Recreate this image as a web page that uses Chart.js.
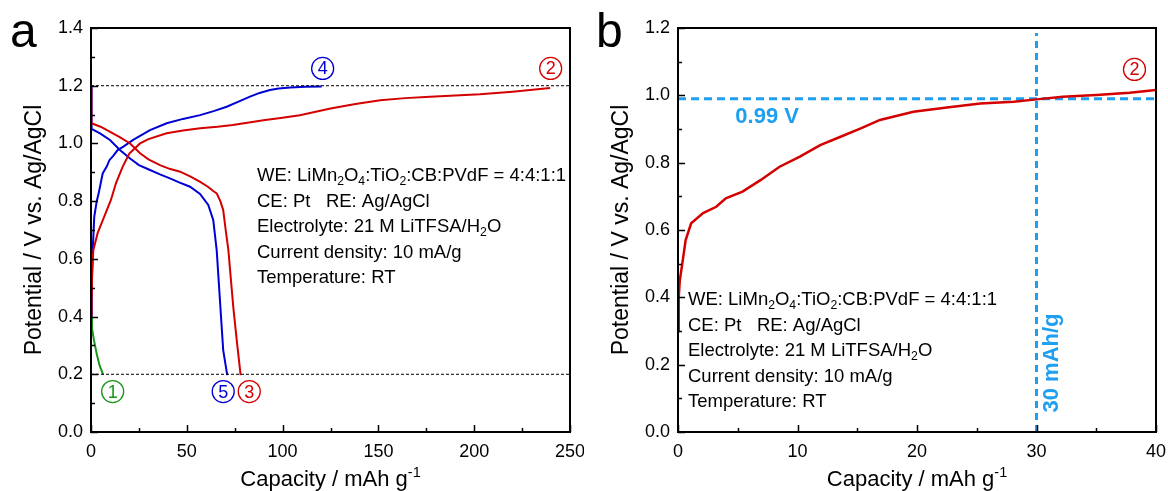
<!DOCTYPE html>
<html>
<head>
<meta charset="utf-8">
<script src="https://cdn.jsdelivr.net/npm/chart.js@4.4.0/dist/chart.umd.min.js"></script>
<style>
  body { margin: 0; background: #fff; }
  #wrap { position: relative; width: 1168px; height: 491px; }
  canvas { position: absolute; top: 0; }
</style>
</head>
<body>
<div id="wrap">
  <canvas id="chartA" width="584" height="491" style="left:0"></canvas>
  <canvas id="chartB" width="584" height="491" style="left:584px"></canvas>
</div>
<script>
const FONT = '"Liberation Sans", Arial, sans-serif'
Chart.defaults.font.family = FONT
Chart.defaults.color = '#000'

// panel a : cycles 1-5 (capacity mAh/g, potential V)
const cycle1Cap = [0, 0.5, 1.5, 3, 4.5, 6.3]
const cycle1V = [0.40, 0.36, 0.32, 0.27, 0.23, 0.20]

const cycle2Cap = [0, 0.3, 0.6, 1.2, 3.5, 6.9, 10.4, 13.0, 16.5, 20, 25.6, 30, 39.5, 48, 57, 66, 74, 90, 99, 109, 125, 138, 151, 164, 177, 190, 203, 220, 239.6]
const cycle2V = [0.35, 0.45, 0.55, 0.63, 0.69, 0.746, 0.804, 0.862, 0.919, 0.965, 1.0, 1.015, 1.035, 1.045, 1.053, 1.058, 1.064, 1.08, 1.088, 1.098, 1.121, 1.137, 1.15, 1.157, 1.162, 1.166, 1.17, 1.179, 1.192]

const cycle3Cap = [0, 0.2, 5, 10, 15, 20.4, 25.6, 30, 36, 41, 46.5, 52, 57, 61, 63.8, 65.6, 67.5, 69.0, 70.3, 71.7, 73, 74.3, 76.2, 78.1]
const cycle3V = [1.19, 1.07, 1.058, 1.04, 1.022, 1.0, 0.966, 0.945, 0.925, 0.912, 0.902, 0.885, 0.867, 0.85, 0.835, 0.827, 0.80, 0.769, 0.70, 0.63, 0.53, 0.43, 0.31, 0.197]

const cycle4Cap = [0, 0.4, 0.9, 1.7, 3.0, 4.0, 6.1, 8.2, 9.6, 11.6, 13.9, 16.9, 22, 30.8, 39.5, 48, 56.9, 64, 70.8, 77, 83, 88, 93.4, 98, 104, 112, 120.4]
const cycle4V = [0.38, 0.50, 0.63, 0.746, 0.80, 0.827, 0.896, 0.92, 0.942, 0.957, 0.977, 0.989, 1.012, 1.046, 1.07, 1.085, 1.098, 1.112, 1.127, 1.145, 1.162, 1.175, 1.185, 1.19, 1.194, 1.196, 1.197]

const cycle5Cap = [0, 0.3, 4.7, 9.9, 15.1, 20.4, 25, 30.8, 36, 41.2, 46, 51.7, 56.9, 61.2, 63.8, 65.6, 67.3, 69.0, 71.1]
const cycle5V = [1.2, 1.05, 1.035, 1.012, 0.977, 0.948, 0.925, 0.908, 0.893, 0.879, 0.865, 0.85, 0.825, 0.787, 0.735, 0.63, 0.457, 0.284, 0.197]

const cutoffV = [0.2, 1.2]

// circled cycle numbers
const tagNames = ['1', '2', '3', '4', '5']
const tagCap = [11.3, 239.9, 82.6, 120.9, 69.0]
const tagV = [0.14, 1.26, 0.14, 1.26, 0.14]

// panel b : first charge
const chargeCap = [0, 0.06, 0.15, 0.36, 0.64, 1.1, 2.1, 3.2, 4.0, 5.4, 6.9, 8.5, 10.2, 11.9, 13.6, 15.3, 16.9, 19.7, 22.5, 25.3, 28.1, 30.0, 32.2, 35.0, 37.8, 40]
const chargeV = [0.30, 0.40, 0.45, 0.50, 0.57, 0.62, 0.65, 0.669, 0.694, 0.714, 0.748, 0.788, 0.818, 0.852, 0.877, 0.902, 0.927, 0.951, 0.964, 0.976, 0.981, 0.988, 0.996, 1.001, 1.008, 1.016]
const limitV = 0.99
const limitCap = 30

const notes = [
    'WE: LiMn_2O_4:TiO_2:CB:PVdF = 4:4:1:1',
    'CE: Pt   RE: Ag/AgCl',
    'Electrolyte: 21 M LiTFSA/H_2O',
    'Current density: 10 mA/g',
    'Temperature: RT'
]

const RED = '#d40000'
const BLUE = '#0000d6'
const GREEN = '#1a961a'
const CYAN = '#1e9ff0'
const tagColors = [GREEN, RED, RED, BLUE, BLUE]

const pts = (xs, ys) => xs.map((x, i) => ({ x: x, y: ys[i] }))

// text with _x subscripts and ^xx superscript
function richText(ctx, str, x, y, size, measureOnly) {
    const parts = str.split(/(_\d|\^-?\d+)/).filter(s => s.length)
    let cx = x
    for (const p of parts) {
        let t = p, sz = size, dy = 0
        if (p[0] === '_') { t = p.slice(1); sz = size * 0.66; dy = size * 0.22 }
        else if (p[0] === '^') { t = p.slice(1); sz = size * 0.66; dy = -size * 0.42 }
        ctx.font = sz + 'px ' + FONT
        if (!measureOnly) ctx.fillText(t, cx, y + dy)
        cx += ctx.measureText(t).width
    }
    return cx - x
}

function innerTicks(ctx, scale, area, major, minor, isX) {
    ctx.beginPath()
    for (let v = scale.min; v <= scale.max + 1e-9; v += minor) {
        const r = v / major
        const len = Math.abs(r - Math.round(r)) < 1e-6 ? 7 : 4
        const p = Math.round(scale.getPixelForValue(v)) + 0.5
        if (isX) { ctx.moveTo(p, area.bottom); ctx.lineTo(p, area.bottom - len) }
        else { ctx.moveTo(area.left, p); ctx.lineTo(area.left + len, p) }
    }
    ctx.stroke()
}

function circleTag(ctx, x, y, txt, color) {
    ctx.strokeStyle = color
    ctx.fillStyle = color
    ctx.lineWidth = 1.3
    ctx.beginPath()
    ctx.arc(x, y, 11, 0, Math.PI * 2)
    ctx.stroke()
    ctx.font = '18px ' + FONT
    ctx.textAlign = 'center'
    ctx.textBaseline = 'middle'
    ctx.fillText(txt, x, y + 1)
}

function decorPlugin(opts) {
    return {
        id: 'decor',
        afterDatasetsDraw(chart) {
            const ctx = chart.ctx
            const a = chart.chartArea
            const xs = chart.scales.x, ys = chart.scales.y
            ctx.save()
            ctx.strokeStyle = '#000'
            ctx.lineWidth = 2
            ctx.strokeRect(a.left, a.top, a.right - a.left, a.bottom - a.top)
            ctx.lineWidth = 1.5
            innerTicks(ctx, xs, a, opts.xMajor, opts.xMajor / 2, true)
            innerTicks(ctx, ys, a, 0.2, 0.1, false)

            // panel letter
            ctx.fillStyle = '#000'
            ctx.textAlign = 'left'
            ctx.textBaseline = 'alphabetic'
            ctx.font = '48px ' + FONT
            ctx.fillText(opts.letter, opts.letterX, 47)

            // x axis title
            const w = richText(ctx, 'Capacity / mAh g^-1', 0, 0, 22, true)
            richText(ctx, 'Capacity / mAh g^-1', (a.left + a.right) / 2 - w / 2, 486, 22)

            // conditions
            notes.forEach((n, i) => richText(ctx, n, a.left + opts.noteDx, opts.noteY + i * 25.6, 18.5))

            if (opts.extra) opts.extra(ctx, xs, ys)
            ctx.restore()
        }
    }
}

function baseOptions(o) {
    return {
        responsive: false,
        devicePixelRatio: 1,
        animation: false,
        layout: { padding: { left: 0, right: o.padRight, top: 28, bottom: 0 } },
        plugins: { legend: { display: false }, tooltip: { enabled: false } },
        elements: { point: { radius: 0 }, line: { tension: 0 } },
        scales: {
            x: {
                type: 'linear', min: 0, max: o.xMax,
                ticks: { stepSize: o.xMajor, padding: 9, font: { size: 18 } },
                grid: { display: false, drawTicks: false },
                border: { display: false },
                afterFit: s => { s.height = 59; s.paddingLeft = 0; s.paddingRight = 0 }
            },
            y: {
                min: 0, max: o.yMax,
                ticks: { stepSize: 0.2, padding: 8, font: { size: 18 }, callback: v => v.toFixed(1) },
                grid: { display: false, drawTicks: false },
                border: { display: false },
                title: { display: true, text: 'Potential / V vs. Ag/AgCl', font: { size: 23 }, padding: { top: o.titlePad, bottom: 0 } },
                afterFit: s => { s.width = o.yWidth; s.paddingTop = 0; s.paddingBottom = 0 }
            }
        }
    }
}

function line(data, color, width, dash) {
    return { data: data, showLine: true, borderColor: color, backgroundColor: color, borderWidth: width, borderDash: dash || [], pointRadius: 0 }
}

// ---------- panel a ----------
new Chart(document.getElementById('chartA'), {
    type: 'scatter',
    data: {
        datasets: [
            line(pts([0, 250], [cutoffV[0], cutoffV[0]]), '#000', 1, [3, 2]),
            line(pts([0, 250], [cutoffV[1], cutoffV[1]]), '#000', 1, [3, 2]),
            line(pts(cycle1Cap, cycle1V), GREEN, 2),
            line(pts(cycle2Cap, cycle2V), RED, 2),
            line(pts(cycle3Cap, cycle3V), RED, 2),
            line(pts(cycle4Cap, cycle4V), BLUE, 2),
            line(pts(cycle5Cap, cycle5V), BLUE, 2)
        ]
    },
    options: baseOptions({ xMax: 250, xMajor: 50, yMax: 1.4, padRight: 14, yWidth: 91, titlePad: 21 }),
    plugins: [decorPlugin({
        letter: 'a', letterX: 10, xMajor: 50, noteDx: 166, noteY: 181,
        extra: (ctx, xs, ys) => {
            tagNames.forEach((t, i) => circleTag(ctx, xs.getPixelForValue(tagCap[i]), ys.getPixelForValue(tagV[i]), t, tagColors[i]))
        }
    })]
})

// ---------- panel b ----------
new Chart(document.getElementById('chartB'), {
    type: 'scatter',
    data: {
        datasets: [
            line(pts(chargeCap, chargeV), RED, 2.5),
            line(pts([0, 40], [limitV, limitV]), CYAN, 3, [8, 5]),
            line(pts([limitCap, limitCap], [0, 1.185]), CYAN, 3, [7, 5])
        ]
    },
    options: baseOptions({ xMax: 40, xMajor: 10, yMax: 1.2, padRight: 12, yWidth: 94, titlePad: 24 }),
    plugins: [decorPlugin({
        letter: 'b', letterX: 12, xMajor: 10, noteDx: 10, noteY: 305,
        extra: (ctx, xs, ys) => {
            circleTag(ctx, xs.getPixelForValue(38.2), ys.getPixelForValue(1.077), '2', RED)
            ctx.fillStyle = CYAN
            ctx.font = 'bold 22px ' + FONT
            ctx.textAlign = 'center'
            ctx.textBaseline = 'middle'
            ctx.fillText('0.99 V', xs.getPixelForValue(7.46), ys.getPixelForValue(0.936))
            ctx.save()
            ctx.translate(xs.getPixelForValue(31.3), ys.getPixelForValue(0.205))
            ctx.rotate(-Math.PI / 2)
            ctx.fillText('30 mAh/g', 0, 0)
            ctx.restore()
        }
    })]
})
</script>
</body>
</html>
